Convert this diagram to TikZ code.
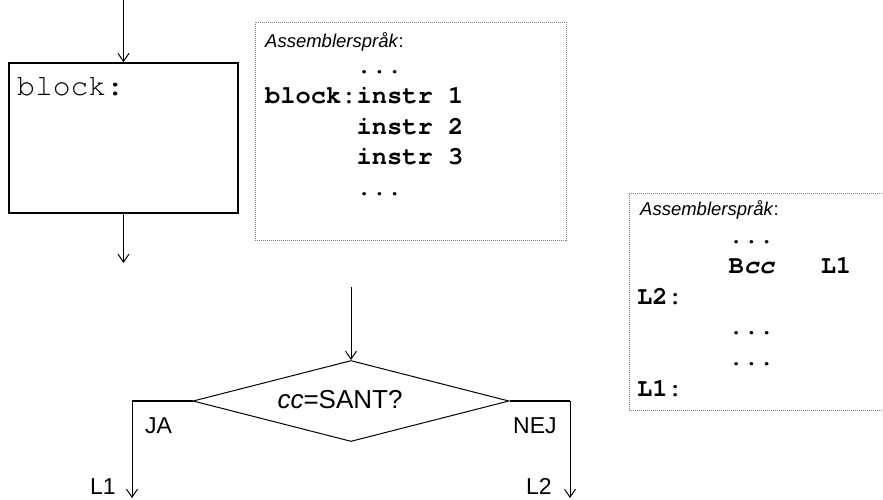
\documentclass[tikz,border=0pt]{standalone}
\usepackage{fontspec}
\setmainfont{Liberation Sans}
\setmonofont{texgyrecursor}[Extension=.otf, UprightFont=*-regular, BoldFont=*-bold,
    ItalicFont=*-italic, BoldItalicFont=*-bolditalic]
\usetikzlibrary{arrows.meta,shapes.geometric}

\begin{document}
\begin{tikzpicture}[x=1pt, y=-1pt,
    arr/.style={-{Straight Barb[length=8pt,width=11pt]}, line width=1pt},
    branch/.style={line width=1.8pt},
    flowbox/.style={draw, line width=1.5pt, inner sep=0pt},
    asmbox/.style={draw=gray, densely dotted, line width=1pt, inner sep=0pt},
    heading/.style={font=\fontsize{18.5}{22}\selectfont, inner sep=0pt, anchor=base west},
    code/.style={font=\fontsize{25.4}{30.6}\selectfont\ttfamily\bfseries, inner sep=0pt, anchor=base west},
    lbl/.style={font=\fontsize{23}{27}\selectfont, inner sep=0pt, anchor=base west}]
    \useasboundingbox (0,0) rectangle (883,499);
    \clip (0,0) rectangle (883,499);

    % Block
    \coordinate (top) at (123.5,0);
    \coordinate (blockout) at (123.5,263);
    \node[flowbox, minimum width=229pt, minimum height=150pt] (block) at (123.5,138) {};
    \node[anchor=base west, inner sep=0pt, font=\fontsize{29.7}{34}\selectfont\ttfamily] (blocklbl) at (17,95) {block:};
    \draw[arr] (top) -- (block.north);
    \draw[arr] (block.south) -- (blockout);

    % Assembler code for the block
    \node[asmbox, minimum width=311pt, minimum height=218pt] (asmblock) at (410.5,131) {};
    \node[heading] (asmblockhead) at (265,47) {\textit{Assemblerspråk}:};
    \node[code] (asmblockcode) at (265,73) {%
        \begin{tabular}[t]{@{}l@{}l@{}}
              & ...\\
        block:& instr 1\\
              & instr 2\\
              & instr 3\\
              & ...
        \end{tabular}};

    % Condition
    \coordinate (condin) at (351,287);
    \coordinate (jacorner) at (132,401);
    \coordinate (l1end) at (132,498);
    \coordinate (nejcorner) at (570,401);
    \coordinate (l2end) at (570,498);
    \node[draw, diamond, line width=1pt, inner sep=0pt, aspect=3.9,
          minimum width=316pt, minimum height=81pt] (cond) at (351,401) {};
    \node[anchor=base, inner sep=0pt, font=\fontsize{26}{30}\selectfont] (condtext) at (340,408) {\textit{cc}=SANT?};
    \draw[arr] (condin) -- (cond.north);
    \draw[branch] (cond.west) -- (jacorner);
    \draw[arr] (jacorner) -- (l1end);
    \draw[branch] (cond.east) -- (nejcorner);
    \draw[arr] (nejcorner) -- (l2end);
    \node[lbl] (ja) at (145,433) {JA};
    \node[lbl] (nej) at (513,433) {NEJ};
    \node[lbl] (l1) at (90,494) {L1};
    \node[lbl] (l2) at (526,494) {L2};

    % Assembler code for the condition
    \node[asmbox, minimum width=262pt, minimum height=217pt] (asmcond) at (760,301.5) {};
    \node[heading] (asmcondhead) at (640,215) {\textit{Assemblerspråk}:};
    \node[code] (asmcondcode) at (637,243) {%
        \begin{tabular}[t]{@{}l@{}l@{}}
        \hphantom{L2:xxx}& ...\\
           & B\textit{cc}\hphantom{xxx}L1\\
        L2:& \\
           & ...\\
           & ...\\
        L1:&
        \end{tabular}};
\end{tikzpicture}
\end{document}
